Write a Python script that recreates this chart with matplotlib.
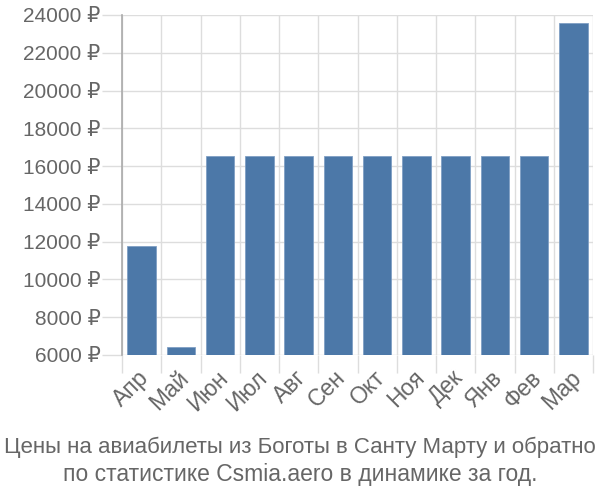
import matplotlib
matplotlib.use("Agg")
import matplotlib.pyplot as plt
import matplotlib.transforms as mtransforms
import numpy as np

months = ["Апр", "Май", "Июн", "Июл", "Авг", "Сен", "Окт", "Ноя", "Дек", "Янв", "Фев", "Мар"]
prices = [11770, 6420, 16540, 16540, 16540, 16540, 16540, 16540, 16540, 16540, 16540, 23560]
yticks = [6000, 8000, 10000, 12000, 14000, 16000, 18000, 20000, 22000, 24000]
title_lines = ["Цены на авиабилеты из Боготы в Санту Марту и обратно",
               "по статистике Csmia.aero в динамике за год."]

plt.rcParams['font.family'] = ['Liberation Sans', 'DejaVu Sans']

fig = plt.figure(figsize=(6, 5), dpi=100)
W, H = 600, 500
left, right, top, bottom = 122, 593, 15, 355
ax = fig.add_axes([left / W, 1 - bottom / H, (right - left) / W, (bottom - top) / H])

x = np.arange(len(months))
base = yticks[0]
ax.bar(x, np.array(prices) - base, bottom=base, width=0.72, color="#4c78a8",
       edgecolor="#7f9fc4", linewidth=0.6, zorder=3)

ax.set_xlim(-0.5, len(months) - 0.5)
ax.set_ylim(yticks[0], yticks[-1])

grid_c = "#dddddd"
# y axis
ax.set_yticks(yticks)
ax.set_yticklabels([f"{v} ₽" for v in yticks])
ax.tick_params(axis="y", length=14.5, width=1, color=grid_c, labelsize=15,
               labelcolor="#666666", pad=1)
ax.yaxis.grid(True, color=grid_c, linewidth=1, zorder=0)

# x axis
ax.set_xticks(x)
ax.set_xticklabels(months, rotation=45, ha="right", rotation_mode="anchor")
ax.tick_params(axis="x", which="major", length=0, labelsize=16.5, labelcolor="#666666", pad=8)
offset = mtransforms.ScaledTranslation(-4 / 100, 0, fig.dpi_scale_trans)
for lbl in ax.get_xticklabels():
    lbl.set_transform(lbl.get_transform() + offset)
ax.set_xticks(np.arange(len(months) + 1) - 0.5, minor=True)
ax.tick_params(axis="x", which="minor", length=13, width=1, color=grid_c)
ax.xaxis.grid(True, which="minor", color=grid_c, linewidth=1, zorder=0)

for s in ["top", "right", "bottom"]:
    ax.spines[s].set_visible(False)
ax.spines["left"].set_color("#aaaaaa")
ax.spines["left"].set_linewidth(1.2)
ax.spines["left"].set_zorder(4)

fig.text(0.5, 1 - 447 / H, title_lines[0], ha="center", va="center", fontsize=16, color="#666666")
fig.text(0.5, 1 - 475 / H, title_lines[1], ha="center", va="center", fontsize=16.5, color="#666666")

fig.savefig("out.png", dpi=100)
